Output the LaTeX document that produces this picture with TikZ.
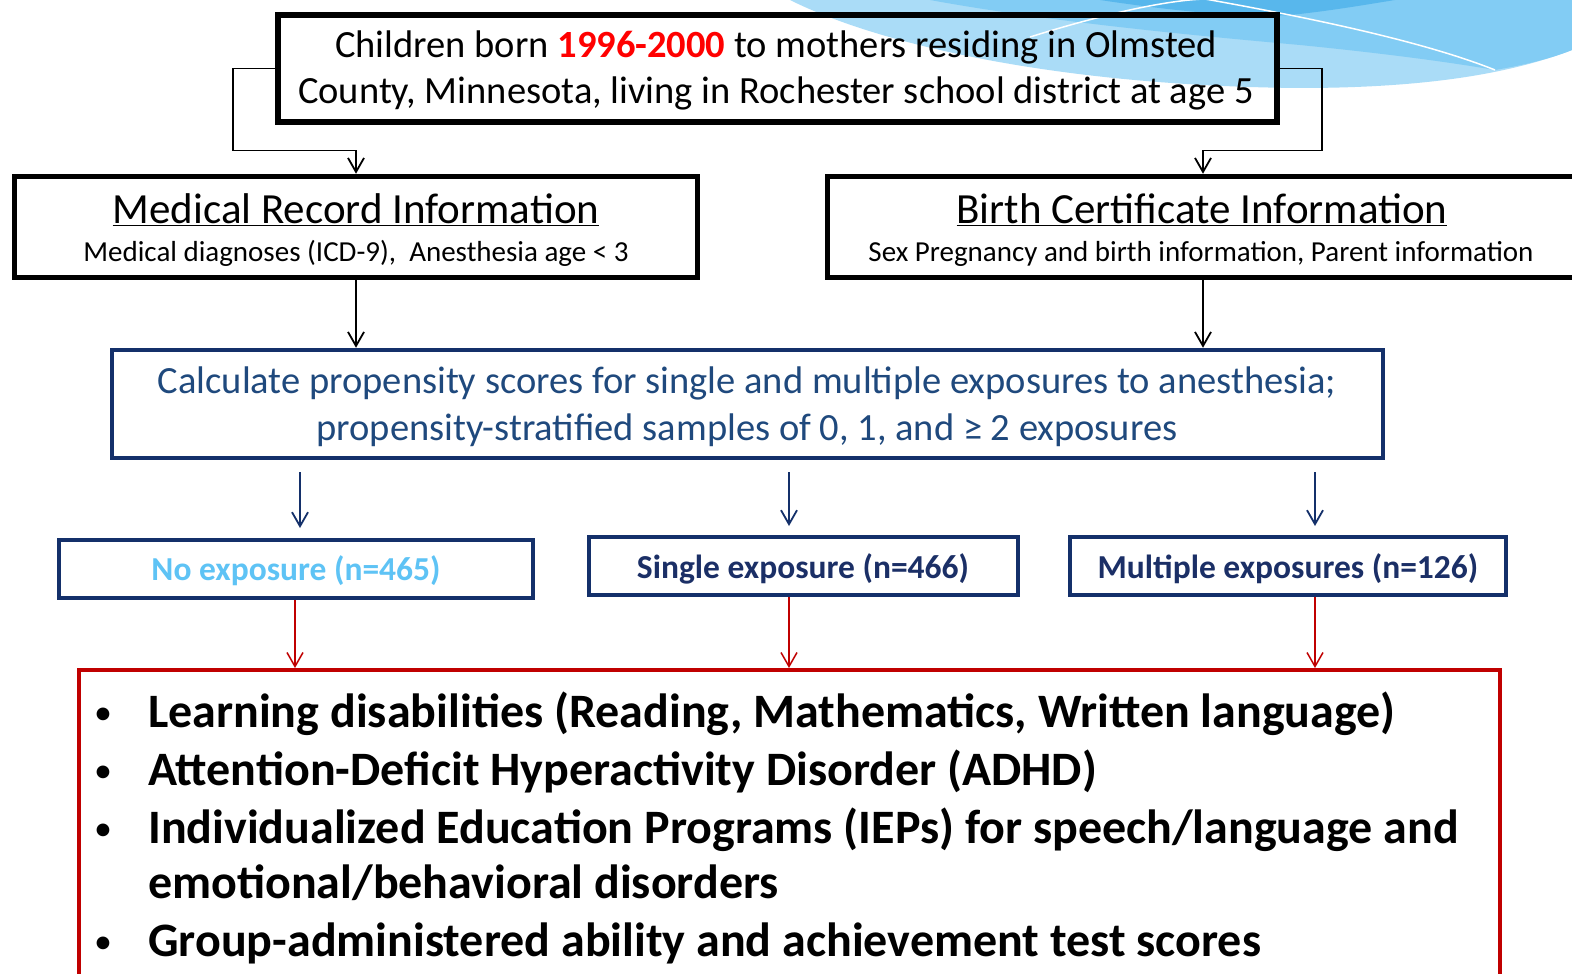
\documentclass[tikz,border=0pt]{standalone}
\usepackage{fontspec}
\setmainfont{Carlito}
\usetikzlibrary{arrows.meta}
\definecolor{navyline}{HTML}{14306A}
\definecolor{calctext}{HTML}{1F497D}
\definecolor{navytext}{HTML}{1B2F66}
\definecolor{lightbluetext}{HTML}{5EC3F5}
\definecolor{redline}{HTML}{C00000}
\definecolor{yearred}{HTML}{FF0000}
\definecolor{swA}{HTML}{AADCF7}
\definecolor{swB}{HTML}{82CCF4}
\definecolor{swC}{HTML}{58B7EC}
\begin{document}
\begin{tikzpicture}[x=1pt,y=-1pt,
  blackbox/.style={draw=black,line width=5.5pt,inner sep=0pt},
  navybox/.style={draw=navyline,line width=4.5pt,inner sep=0pt},
  redbox/.style={draw=redline,line width=4pt,inner sep=0pt},
  linetext/.style={anchor=base,inner sep=0pt},
  toptext/.style={linetext,font=\fontsize{38.5}{45}\selectfont},
  calctextstyle/.style={linetext,text=calctext,font=\fontsize{38.5}{45}\selectfont},
  infotitle/.style={linetext,font=\fontsize{43}{50}\selectfont},
  infosub/.style={linetext,font=\fontsize{29}{37}\selectfont},
  grouptext/.style={linetext,font=\fontsize{33.5}{38}\selectfont\bfseries},
  tipV/.style={-{Straight Barb[length=14pt,width=16pt]}},
  blackarr/.style={tipV,draw=black,line width=1.8pt},
  navyarr/.style={tipV,draw=navyline,line width=1.8pt},
  redarr/.style={tipV,draw=redline,line width=1.5pt},
  bullettext/.style={anchor=base west,inner sep=0pt,font=\fontsize{48}{56}\selectfont\bfseries},
  bulletdot/.style={anchor=base,inner sep=0pt,font=\fontsize{36}{40}\selectfont}
]
\useasboundingbox (0,0) rectangle (1572,974);
\fill[white] (0,0) rectangle (1572,974);
\clip (0,0) rectangle (1572,974);

% background swoosh
\fill[swA] (790,0) .. controls (880,45) and (1060,86) .. (1300,88) .. controls (1440,88) and (1520,70) .. (1572,50) -- (1572,0) -- cycle;
\fill[swB] (930,0) .. controls (1050,22) and (1200,36) .. (1300,45) .. controls (1400,55) and (1460,64) .. (1495,70) .. controls (1530,64) and (1555,57) .. (1572,50) -- (1572,0) -- cycle;
\fill[swC] (1100,0) .. controls (1180,12) and (1250,18) .. (1290,15) .. controls (1330,11) and (1370,4) .. (1395,0) -- cycle;
\draw[white,line width=1.5pt] (1030,37) .. controls (1110,12) and (1170,0) .. (1205,-1) .. controls (1300,16) and (1420,40) .. (1495,70);

% top box
\node[blackbox,line width=6pt,minimum width=999pt,minimum height=107pt] (top) at (777.5,68.5) {};
\node[toptext] (topl1) at (776,58)
  {Children born \textcolor{yearred}{\bfseries 1996-2000} to mothers residing in Olmsted};
\node[toptext] (topl2) at (776,103)
  {County, Minnesota, living in Rochester school district at age 5};

% information boxes
\node[blackbox,minimum width=683pt,minimum height=101pt] (med) at (356,227) {};
\node[infotitle] (medtitle) at (356,223.5) {\underline{Medical Record Information}};
\node[infosub] (medsub) at (356,261) {Medical diagnoses (ICD-9),\ \ Anesthesia age < 3};

\node[blackbox,minimum width=751pt,minimum height=101pt] (birth) at (1203,227) {};
\node[infotitle] (birthtitle) at (1202,223.5) {\underline{Birth Certificate Information}};
\node[infosub] (birthsub) at (1201,261) {Sex Pregnancy and birth information, Parent information};

% propensity box
\node[navybox,minimum width=1271pt,minimum height=108pt] (calc) at (747.5,404) {};
\node[calctextstyle] (calcl1) at (747,393)
  {Calculate propensity scores for single and multiple exposures to anesthesia;};
\node[calctextstyle] (calcl2) at (747,440)
  {propensity-stratified samples of 0, 1, and ≥ 2 exposures};

% exposure groups
\node[navybox,minimum width=474pt,minimum height=58pt] (noexp) at (296,569) {};
\node[grouptext,text=lightbluetext] (noexpt) at (296,580) {No exposure (n=465)};
\node[navybox,minimum width=429pt,minimum height=58pt] (single) at (803.5,566) {};
\node[grouptext,text=navytext] (singlet) at (803,578) {Single exposure (n=466)};
\node[navybox,minimum width=436pt,minimum height=58pt] (multi) at (1288,566) {};
\node[grouptext,text=navytext] (multit) at (1288,578) {Multiple exposures (n=126)};

% outcomes
\node[redbox,minimum width=1421pt,minimum height=340pt] (out) at (789.5,840) {};
\node[bulletdot] (b1) at (103,724) {•};
\node[bullettext] (t1) at (148,727) {Learning disabilities (Reading, Mathematics, Written language)};
\node[bulletdot] (b2) at (103,782) {•};
\node[bullettext] (t2) at (148,785) {Attention-Deficit Hyperactivity Disorder (ADHD)};
\node[bulletdot] (b3) at (103,840) {•};
\node[bullettext] (t3) at (148,843) {Individualized Education Programs (IEPs) for speech/language and};
\node[bullettext] (t4) at (148,898) {emotional/behavioral disorders};
\node[bulletdot] (b5) at (103,953) {•};
\node[bullettext] (t5) at (148,956) {Group-administered ability and achievement test scores};

% connectors
\draw[blackarr] (top.west) -| ++(-42,82) -| (med.north);
\draw[blackarr] (top.east) -| ++(42,82) -| (birth.north);
\draw[blackarr] (med.south) -- (med.south |- calc.north);
\draw[blackarr] (birth.south) -- (birth.south |- calc.north);

\coordinate (n1s) at (300,472);
\coordinate (n1e) at (300,528);
\coordinate (n2s) at (789,472);
\coordinate (n2e) at (789,526);
\coordinate (n3s) at (1315,472);
\coordinate (n3e) at (1315,526);
\draw[navyarr] (n1s) -- (n1e);
\draw[navyarr] (n2s) -- (n2e);
\draw[navyarr] (n3s) -- (n3e);

\draw[redarr] ([xshift=-1pt]noexp.south) -- ([xshift=-1pt]noexp.south |- out.north);
\draw[redarr] ([xshift=-14.5pt]single.south) -- ([xshift=-14.5pt]single.south |- out.north);
\draw[redarr] ([xshift=27pt]multi.south) -- ([xshift=27pt]multi.south |- out.north);
\end{tikzpicture}
\end{document}
